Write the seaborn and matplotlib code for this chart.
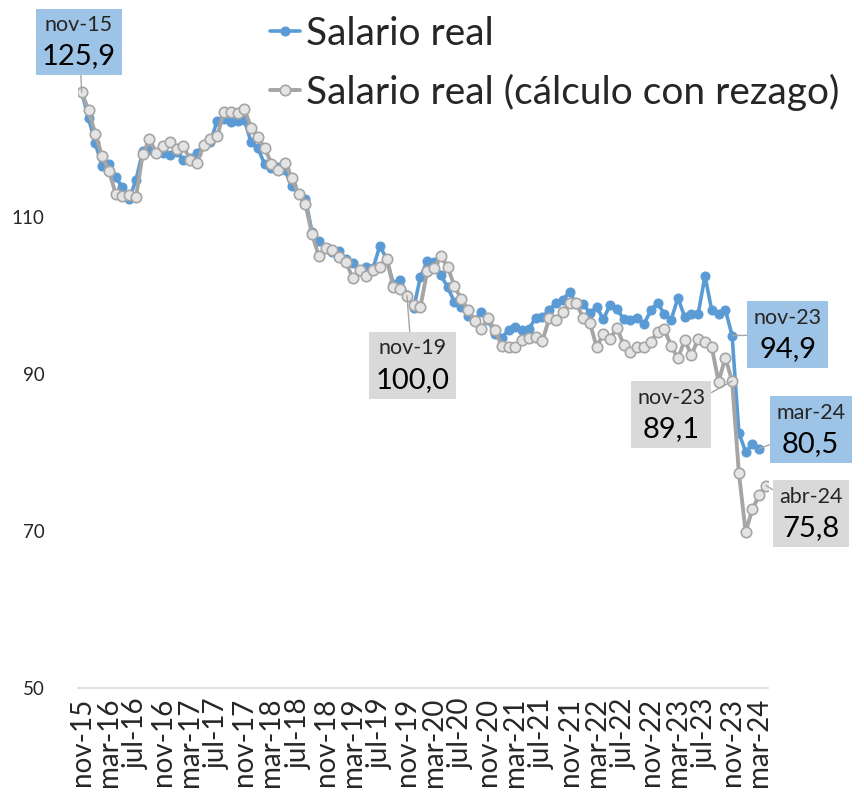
import matplotlib

matplotlib.use("Agg")
import matplotlib.pyplot as plt
import numpy as np
import pandas as pd
import seaborn as sns
from matplotlib.offsetbox import AnnotationBbox, TextArea, VPacker

# monthly series, nov-15 .. mar-24 (blue) and nov-15 .. abr-24 (gray)
salario_real = [
    125.9, 122.6, 119.4, 116.5, 116.7, 115.1, 113.8, 112.3, 114.7, 118.4,
    118.5, 118.1, 118.1, 117.9, 118.3, 117.3, 117.5, 118.1, 119.2, 119.6,
    122.3, 122.5, 122.1, 122.3, 122.4, 119.5, 118.8, 116.7, 116.3, 116.4,
    116.0, 113.9, 113.0, 112.3, 108.1, 106.9, 106.0, 105.5, 105.7, 104.6,
    104.2, 103.2, 103.6, 103.5, 106.3, 104.7, 101.5, 102.0, 100.1, 98.4,
    102.4, 104.4, 104.3, 102.6, 101.1, 99.2, 98.6, 97.4, 96.9, 97.9,
    96.9, 95.1, 94.6, 95.6, 96.0, 95.6, 95.7, 97.2, 97.3, 98.1,
    99.1, 99.4, 100.5, 98.9, 98.9, 97.8, 98.5, 97.0, 98.8, 98.3,
    97.0, 96.9, 97.2, 96.4, 98.1, 99.1, 97.6, 96.9, 99.7, 97.3,
    97.7, 97.7, 102.5, 98.1, 97.7, 98.2, 94.9, 82.5, 80.1, 81.1,
    80.5,
]
salario_rezago = [
    125.9, 123.6, 120.6, 117.8, 115.9, 113.0, 112.7, 112.8, 112.5, 118.0,
    119.9, 118.2, 119.0, 119.5, 118.7, 119.0, 117.3, 116.9, 119.2, 119.9,
    120.3, 123.4, 123.4, 123.3, 123.8, 121.4, 120.2, 118.8, 116.8, 116.0,
    116.9, 115.0, 112.9, 111.7, 107.8, 105.0, 106.0, 105.8, 104.9, 104.3,
    102.2, 103.2, 102.5, 103.2, 103.6, 104.7, 101.1, 100.8, 100.0, 98.8,
    98.6, 103.1, 103.5, 105.0, 103.7, 101.2, 99.6, 98.2, 96.8, 95.8,
    97.1, 95.6, 93.6, 93.4, 93.4, 94.3, 94.6, 94.7, 94.2, 97.1,
    96.9, 97.9, 99.1, 99.0, 97.2, 96.5, 93.5, 95.1, 94.5, 95.9,
    93.7, 92.8, 93.4, 93.5, 94.1, 95.4, 95.7, 93.6, 92.0, 94.3,
    92.4, 94.5, 94.1, 93.4, 89.0, 92.1, 89.1, 77.4, 69.9, 72.8,
    74.6, 75.8,
]
tick_labels = [
    "nov-15", "mar-16", "jul-16", "nov-16", "mar-17", "jul-17", "nov-17",
    "mar-18", "jul-18", "nov-18", "mar-19", "jul-19", "nov-19", "mar-20",
    "jul-20", "nov-20", "mar-21", "jul-21", "nov-21", "mar-22", "jul-22",
    "nov-22", "mar-23", "jul-23", "nov-23", "mar-24",
]
y_ticks = [50, 70, 90, 110]

# callouts: (date, value text, month index, series, box centre in data coords)
callouts = [
    ("nov-15", "125,9", 0, "real", (-0.4, 132.3)),
    ("nov-19", "100,0", 48, "rezago", (48.8, 91.1)),
    ("nov-23", "94,9", 96, "real", (104.2, 95.0)),
    ("nov-23", "89,1", 96, "rezago", (87.0, 84.8)),
    ("mar-24", "80,5", 100, "real", (107.6, 82.9)),
    ("abr-24", "75,8", 101, "rezago", (107.6, 72.2)),
]

BLUE = "#5B9BD5"
GRAY = "#A5A5A5"
BOX_BLUE = "#9DC3E6"
BOX_GRAY = "#D9D9D9"
TEXT = "#262626"

sns.set_style("white")
plt.rcParams["font.family"] = ["Lato", "DejaVu Sans"]

df_real = pd.DataFrame({"mes": np.arange(len(salario_real)), "valor": salario_real})
df_rez = pd.DataFrame({"mes": np.arange(len(salario_rezago)), "valor": salario_rezago})

fig = plt.figure(figsize=(8.64, 7.99), dpi=100)
ax = fig.add_axes([0.0903, 0.1389, 0.7986, 0.8154])

sns.lineplot(
    data=df_real, x="mes", y="valor", ax=ax, color=BLUE, lw=2.6,
    marker="o", markersize=6.5, markerfacecolor=BLUE, markeredgecolor=BLUE,
    label="Salario real",
)
sns.lineplot(
    data=df_rez, x="mes", y="valor", ax=ax, color=GRAY, lw=2.8,
    marker="o", markersize=7.5, markerfacecolor="#E4E4E4", markeredgecolor=GRAY,
    markeredgewidth=1.2, label="Salario real (cálculo con rezago)",
)

ax.set_xlim(-0.55, 101.3)
ax.set_ylim(50, 133)
ax.set_xticks(range(0, 101, 4))
ax.set_xticklabels(tick_labels, rotation=90, fontsize=20, color=TEXT)
ax.set_yticks(y_ticks)
ax.set_yticklabels([str(v) for v in y_ticks], fontsize=13.5, color=TEXT)
ax.tick_params(axis="x", length=0, pad=7)
ax.tick_params(axis="y", length=0, pad=24)
ax.set_xlabel("")
ax.set_ylabel("")
for side in ["left", "top", "right"]:
    ax.spines[side].set_visible(False)
ax.spines["bottom"].set_color("#D9D9D9")
ax.spines["bottom"].set_linewidth(1.2)

ax.legend(
    loc="upper left", bbox_to_anchor=(0.3125, 0.98), bbox_transform=fig.transFigure,
    frameon=False, fontsize=28, handlelength=0.78, handletextpad=0.15,
    labelspacing=0.55, borderaxespad=0, borderpad=0, labelcolor=TEXT,
)

for fecha, valor, idx, serie, box_xy in callouts:
    y_pt = salario_real[idx] if serie == "real" else salario_rezago[idx]
    face = BOX_BLUE if serie == "real" else BOX_GRAY
    content = VPacker(
        children=[
            TextArea(fecha, textprops=dict(fontsize=15.5, color=TEXT)),
            TextArea(valor, textprops=dict(fontsize=21, color="black")),
        ],
        align="center", pad=0, sep=6,
    )
    ab = AnnotationBbox(
        content, (idx, y_pt), xybox=box_xy, xycoords="data", boxcoords="data",
        frameon=True, pad=0.45, annotation_clip=False,
        bboxprops=dict(facecolor=face, edgecolor="none"),
        arrowprops=dict(arrowstyle="-", color=GRAY, lw=1, shrinkA=0, shrinkB=0),
    )
    ax.add_artist(ab)

fig.savefig("out.png", dpi=100)
plt.close(fig)
